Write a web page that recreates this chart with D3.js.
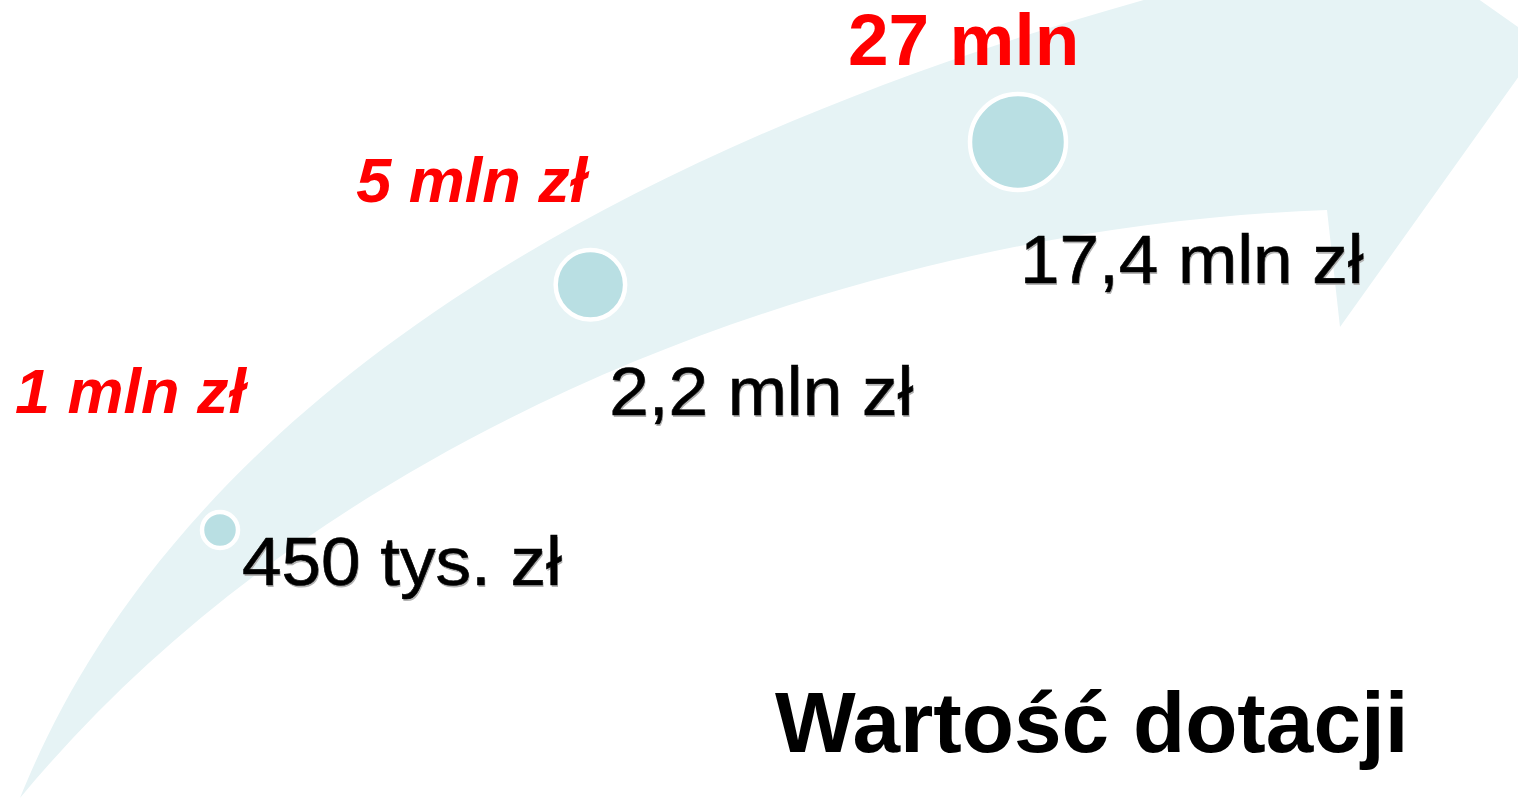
<!DOCTYPE html>
<html>
<head>
<meta charset="utf-8">
<script src="https://cdn.jsdelivr.net/npm/d3@7"></script>
<style>
  html, body { margin: 0; padding: 0; background: #fff; overflow: hidden; }
  svg { display: block; }
</style>
</head>
<body>
<div id="chart"></div>
<script>
(function () {
  'use strict';

  // Data (values in mln zł)
  var stages = ['etap 1', 'etap 2', 'etap 3'];
  var grantValues = [0.45, 2.2, 17.4];
  var grantLabels = ['450 tys. zł', '2,2 mln zł', '17,4 mln zł'];
  var limitValues = [1, 5, 27];
  var limitLabels = ['1 mln zł', '5 mln zł', '27 mln'];
  var title = 'Wartość dotacji';

  var width = 1518, height = 798;
  var font = '"Liberation Sans", Arial, Helvetica, sans-serif';

  var svg = d3.select('#chart').append('svg')
    .attr('width', width)
    .attr('height', height);

  // Background arrow (decorative)
  var p = d3.path();
  p.moveTo(20, 798);
  p.bezierCurveTo(100, 600, 330, 220, 1180, -10);
  p.lineTo(1300, -40);
  p.lineTo(1440, -28);
  p.lineTo(1542, 44);
  p.lineTo(1340, 327);
  p.lineTo(1327, 210);
  p.bezierCurveTo(900, 225, 350, 400, 20, 798);
  p.closePath();
  svg.append('path')
    .attr('d', p.toString())
    .attr('fill', '#e6f3f5');

  // Progress along the arrow from the granted value
  var t = d3.scaleLog().domain(d3.extent(grantValues)).range([0, 1]);
  var cx = d3.scalePow().exponent(0.92).domain([0, 1]).range([220, 1018]);
  var cy = d3.scalePow().exponent(0.55).domain([0, 1]).range([530, 142]);
  var r = d3.scalePow().exponent(0.7).domain([0, 1]).range([18, 48]);

  var gx = d3.scalePow().exponent(0.9).domain([0, 1]).range([242, 1020]);
  var gy = d3.scalePow().exponent(0.69).domain([0, 1]).range([585, 283]);
  var lx = d3.scalePow().exponent(1.07).domain([0, 1]).range([15, 848]);
  var ly = d3.scalePow().exponent(0.6).domain([0, 1]).range([413, 65]);

  var rows = stages.map(function (s, i) {
    return { stage: s, value: grantValues[i], label: grantLabels[i], limit: limitValues[i], limitLabel: limitLabels[i], last: i === stages.length - 1 };
  });

  svg.append('g').selectAll('circle')
    .data(rows)
    .join('circle')
    .attr('cx', function (d) { return cx(t(d.value)); })
    .attr('cy', function (d) { return cy(t(d.value)); })
    .attr('r', function (d) { return r(t(d.value)); })
    .attr('fill', '#b9dfe3')
    .attr('stroke', '#ffffff')
    .attr('stroke-width', 4.5);

  // Granted values (black, with soft shadow), slightly widened like the original
  var gl = svg.append('g')
    .attr('font-family', font)
    .attr('font-size', 68);
  gl.selectAll('text.shadow')
    .data(rows)
    .join('text')
    .attr('class', 'shadow')
    .attr('transform', function (d) {
      return 'translate(' + (gx(t(d.value)) + 1) + ',' + (gy(t(d.value)) + 2) + ') scale(1.045,1)';
    })
    .attr('fill', '#b4b4b4')
    .text(function (d) { return d.label; });
  gl.selectAll('text.lab')
    .data(rows)
    .join('text')
    .attr('class', 'lab')
    .attr('transform', function (d) {
      return 'translate(' + gx(t(d.value)) + ',' + gy(t(d.value)) + ') scale(1.045,1)';
    })
    .attr('fill', '#000')
    .attr('stroke', '#000')
    .attr('stroke-width', 0.6)
    .text(function (d) { return d.label; });

  // Limits (red)
  svg.append('g')
    .attr('font-family', font)
    .attr('font-weight', 'bold')
    .attr('fill', '#ff0000')
    .selectAll('text')
    .data(rows)
    .join('text')
    .attr('x', function (d) { return lx(t(d.value)); })
    .attr('y', function (d) { return ly(t(d.value)); })
    .attr('font-size', function (d) { return d.last ? 73 : 63; })
    .attr('font-style', function (d) { return d.last ? 'normal' : 'italic'; })
    .text(function (d) { return d.limitLabel; });

  svg.append('text')
    .attr('x', 775)
    .attr('y', 752)
    .attr('font-family', font)
    .attr('font-weight', 'bold')
    .attr('font-size', 85.5)
    .attr('fill', '#000')
    .text(title);
})();
</script>
</body>
</html>
